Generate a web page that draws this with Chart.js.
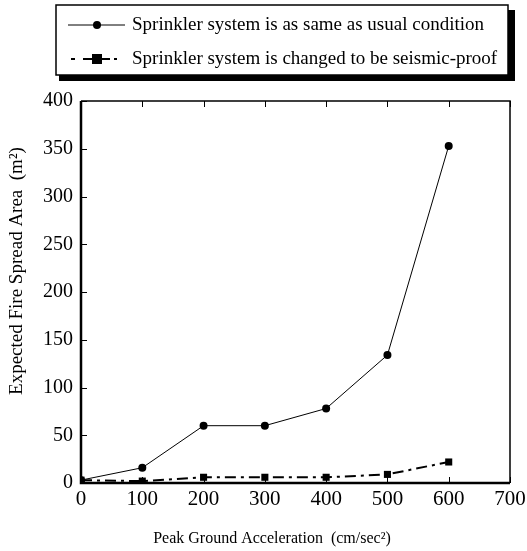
<!DOCTYPE html>
<html>
<head>
<meta charset="utf-8">
<script src="https://cdn.jsdelivr.net/npm/chart.js@4"></script>
<style>
html,body{margin:0;padding:0;background:#fff;}
#wrap{width:527px;height:551px;position:relative;}
</style>
</head>
<body>
<div id="wrap"><canvas id="c" width="527" height="551"></canvas></div>
<script>
const xValues = [0, 100, 200, 300, 400, 500, 600];
const usualValues = [3, 16, 60, 60, 78, 134, 353];
const seismicValues = [3, 2, 6, 6, 6, 9, 22];
const seriesLabels = ["Sprinkler system is as same as usual condition", "Sprinkler system is changed to be seismic-proof"];
const xTitle = "Peak Ground Acceleration  (cm/sec\u00B2)";
const yTitle = "Expected Fire Spread Area  (m\u00B2)";

const FONT = "'Liberation Serif', 'Times New Roman', serif";

const toPts = (vals) => xValues.map((x, i) => ({x: x, y: vals[i]}));

const frameTicks = {
  id: 'frameTicks',
  afterDraw(chart) {
    const ctx = chart.ctx;
    const a = chart.chartArea;
    const xs = chart.scales.x, ys = chart.scales.y;
    ctx.save();
    ctx.strokeStyle = '#000';
    ctx.lineWidth = 1;
    ctx.beginPath();
    xs.ticks.forEach(t => {
      const px = Math.round(xs.getPixelForValue(t.value)) + 0.5;
      ctx.moveTo(px, a.bottom); ctx.lineTo(px, a.bottom - 6);
      ctx.moveTo(px, a.top); ctx.lineTo(px, a.top + 6);
    });
    ys.ticks.forEach(t => {
      const py = Math.round(ys.getPixelForValue(t.value)) + 0.5;
      ctx.moveTo(a.left, py); ctx.lineTo(a.left + 6, py);
    });
    ctx.stroke();
    ctx.lineWidth = 1.5;
    ctx.beginPath();
    ctx.moveTo(a.left, a.top); ctx.lineTo(a.right, a.top); ctx.lineTo(a.right, a.bottom);
    ctx.stroke();
    ctx.lineWidth = 2.5;
    ctx.beginPath();
    ctx.moveTo(a.left, a.top); ctx.lineTo(a.left, a.bottom); ctx.lineTo(a.right, a.bottom);
    ctx.stroke();
    // axis titles
    ctx.fillStyle = '#000';
    ctx.font = "16px " + FONT;
    ctx.textAlign = 'center';
    ctx.textBaseline = 'middle';
    ctx.fillText(xTitle, 272, 539);
    ctx.save();
    ctx.translate(17, 271);
    ctx.rotate(-Math.PI / 2);
    ctx.font = "19px " + FONT;
    ctx.fillText(yTitle, 0, 0);
    ctx.restore();
    ctx.restore();
  }
};

const boxLegend = {
  id: 'boxLegend',
  afterDraw(chart) {
    const ctx = chart.ctx;
    ctx.save();
    const L = 56, T = 5, R = 508, B = 75;
    ctx.fillStyle = '#000';
    ctx.fillRect(L + 3, T + 5, R - L + 4, B - T + 1);
    ctx.fillStyle = '#fff';
    ctx.fillRect(L, T, R - L, B - T);
    ctx.strokeStyle = '#000';
    ctx.lineWidth = 1.5;
    ctx.strokeRect(L, T, R - L, B - T);
    const rows = [25, 59];
    chart.data.datasets.forEach((ds, i) => {
      const y = rows[i];
      ctx.strokeStyle = '#000';
      ctx.lineWidth = ds.borderWidth;
      ctx.beginPath();
      if (i === 0) { ctx.moveTo(68, y); ctx.lineTo(125, y); }
      else {
        ctx.moveTo(71, y); ctx.lineTo(75, y);
        ctx.moveTo(83, y); ctx.lineTo(93, y);
        ctx.moveTo(101, y); ctx.lineTo(110, y);
        ctx.moveTo(114, y); ctx.lineTo(117, y);
      }
      ctx.stroke();
      ctx.fillStyle = '#000';
      if (ds.pointStyle === 'rect') ctx.fillRect(97 - 5, y - 5, 10, 10);
      else { ctx.beginPath(); ctx.arc(97, y, 4, 0, Math.PI * 2); ctx.fill(); }
      ctx.font = "19px " + FONT;
      ctx.textBaseline = 'middle';
      ctx.textAlign = 'left';
      ctx.fillText(ds.label, 132, y);
    });
    ctx.restore();
  }
};

new Chart(document.getElementById('c'), {
  type: 'line',
  data: {
    datasets: [
      {
        label: seriesLabels[0],
        data: toPts(usualValues),
        borderColor: '#000', backgroundColor: '#000',
        borderWidth: 1, pointStyle: 'circle', pointRadius: 4,
        pointBackgroundColor: '#000', pointBorderWidth: 0, tension: 0
      },
      {
        label: seriesLabels[1],
        data: toPts(seismicValues),
        borderColor: '#000', backgroundColor: '#000',
        borderWidth: 2, borderDash: [11, 5, 3, 5], pointStyle: 'rect', pointRadius: 5,
        pointBackgroundColor: '#000', pointBorderWidth: 0, tension: 0
      }
    ]
  },
  options: {
    responsive: false,
    animation: false,
    devicePixelRatio: 1,
    layout: { padding: { top: 101, right: 17, left: 0, bottom: 0 } },
    plugins: { legend: { display: false }, tooltip: { enabled: false } },
    scales: {
      x: {
        type: 'linear', min: 0, max: 700,
        ticks: { stepSize: 100, color: '#000', font: { family: FONT, size: 21 }, padding: 4, maxRotation: 0 },
        grid: { display: false, drawTicks: false },
        border: { display: false },
        title: { display: false },
        afterFit(s) { s.height = 68; s.paddingLeft = 0; s.paddingRight = 0; }
      },
      y: {
        type: 'linear', min: 0, max: 400,
        ticks: { stepSize: 50, color: '#000', font: { family: FONT, size: 20 }, padding: 8 },
        grid: { display: false, drawTicks: false },
        border: { display: false },
        title: { display: false },
        afterFit(s) { s.width = 81; s.paddingTop = 0; s.paddingBottom = 0; }
      }
    }
  },
  plugins: [frameTicks, boxLegend]
});
</script>
</body>
</html>
